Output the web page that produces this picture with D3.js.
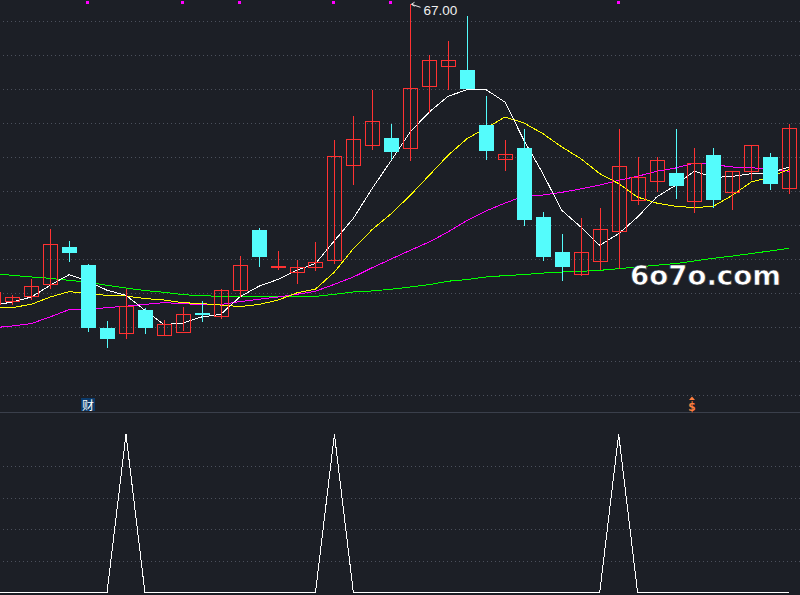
<!DOCTYPE html>
<html>
<head>
<meta charset="utf-8">
<script src="https://cdn.jsdelivr.net/npm/d3@7"></script>
<style>
  body { margin: 0; background: #1c1f26; overflow: hidden; }
</style>
</head>
<body>
<div id="chart"></div>
<script>
// day index -1 is the partly visible candle at the left edge
const days = d3.range(-1, 42);
const opens  = [49.39,49.57,49.84,50.51,52.71,51.65,47.96,47.66,49.00,47.55,47.78,48.82,48.69,50.22,53.71,51.61,51.28,51.57,51.92,57.57,58.72,59.12,58.57,62.22,63.39,63.12,59.88,57.92,58.55,54.47,52.41,51.16,51.92,53.69,55.51,56.63,57.06,55.45,58.12,55.96,57.22,58.00,56.22];
const highs  = [50.18,49.92,50.82,53.76,53.06,51.72,48.35,50.28,49.16,48.41,49.18,49.53,50.24,52.18,53.82,52.47,51.94,53.00,59.04,60.41,61.94,59.94,67.00,64.00,64.82,66.29,61.59,59.00,59.65,54.76,53.47,54.41,55.00,59.65,58.00,58.00,59.65,58.53,58.53,57.22,58.75,58.24,59.94];
const lows   = [49.29,49.34,49.63,50.25,51.84,47.72,46.78,47.31,47.61,47.55,47.78,48.31,48.49,49.78,51.55,51.35,50.55,51.31,51.72,56.37,58.43,57.84,57.78,60.61,61.98,62.00,57.84,57.19,53.96,51.88,50.71,51.00,51.35,51.45,55.18,55.96,55.53,54.72,55.02,54.90,56.65,56.08,55.84];
const closes = [50.08,49.81,50.45,52.88,52.37,47.96,47.31,49.24,47.96,48.22,48.81,48.71,50.22,51.69,52.14,51.63,51.57,51.86,58.06,59.10,60.16,58.31,62.10,63.75,63.75,62.00,58.37,58.22,54.31,52.14,51.55,52.45,53.81,57.51,56.86,57.86,56.31,57.66,55.45,57.22,58.75,56.43,59.75];

// moving averages
const ma5  = [49.29,49.49,49.78,50.47,51.10,50.71,50.18,49.88,49.00,48.16,48.25,48.61,48.76,49.78,50.41,50.81,51.35,51.75,53.09,54.41,56.18,57.82,59.49,60.66,61.59,61.98,61.98,61.25,59.00,57.04,54.88,53.90,52.82,53.51,54.49,55.66,56.35,57.19,56.81,56.88,57.04,57.08,57.43];
const ma10 = [49.15,49.16,49.35,49.78,50.10,49.98,49.88,49.84,49.69,49.61,49.45,49.39,49.31,49.22,49.34,49.59,50.02,50.25,51.25,52.63,53.76,54.69,55.76,56.94,58.12,59.10,59.72,60.37,60.02,59.39,58.61,57.92,57.04,56.45,55.66,55.31,55.12,55.04,55.12,55.76,56.55,56.84,57.29];
const ma20 = [47.97,48.08,48.22,48.61,49.04,49.04,49.16,49.24,49.35,49.45,49.39,49.34,49.34,49.51,49.65,49.78,49.94,50.12,50.53,50.96,51.51,52.02,52.53,53.02,53.61,54.29,54.84,55.31,55.71,55.78,55.94,56.14,56.37,56.65,56.88,57.18,57.37,57.66,57.57,57.43,57.39,57.28,57.18];
const ma60 = [51.15,51.06,50.96,50.88,50.76,50.66,50.47,50.31,50.16,50.06,49.92,49.86,49.82,49.81,49.81,49.82,49.82,49.82,49.94,50.08,50.14,50.24,50.37,50.51,50.71,50.81,50.96,51.04,51.10,51.19,51.25,51.29,51.35,51.45,51.55,51.65,51.75,51.90,52.06,52.19,52.34,52.49,52.65];

// lower panel signal
const signal = [0,0,0,0,0,0,0,1,0,0,0,0,0,0,0,0,0,0,1,0,0,0,0,0,0,0,0,0,0,0,0,0,0,1,0,0,0,0,0,0,0,0,0];

const markDays = [4, 9, 12, 17, 20, 32];
const caiDay = 4;
const dollarDay = 36;
const priceTicks = d3.range(44, 67, 2);
const signalTicks = [0.2, 0.4, 0.6, 0.8];
const highLabel = "67.00";
const watermark = "6o7o.com";

const width = 800, height = 595;
const upColor = "#ff3232", downColor = "#54fcfc", gridColor = "#4b505c";

const svg = d3.select("#chart")
    .append("svg")
    .attr("width", width)
    .attr("height", height)
    .style("display", "block")
    .style("background", "#1c1f26");

const x = d3.scaleLinear().domain([0, 41]).range([12.3, 789.2]);
const y = d3.scaleLinear().domain([44, 66]).range([395.3, 21.3]);
const ys = d3.scaleLinear().domain([0, 1]).range([592.3, 434.3]);

const px = v => Math.round(v) + 0.5;

// dotted grid lines, upper panel
svg.append("g")
    .selectAll("line")
    .data(priceTicks)
    .join("line")
    .attr("x1", 3).attr("x2", width)
    .attr("y1", d => px(y(d))).attr("y2", d => px(y(d)))
    .attr("stroke", gridColor)
    .attr("stroke-dasharray", "1,3");

// panel separator
svg.append("line")
    .attr("x1", 0).attr("x2", width)
    .attr("y1", 412.5).attr("y2", 412.5)
    .attr("stroke", "#3a3f4b");

// dotted grid lines, lower panel
svg.append("g")
    .selectAll("line")
    .data(signalTicks)
    .join("line")
    .attr("x1", 3).attr("x2", width)
    .attr("y1", d => px(ys(d))).attr("y2", d => px(ys(d)))
    .attr("stroke", gridColor)
    .attr("stroke-dasharray", "1,3");

// moving averages
const maSeries = [
    { values: ma60, color: "#00ff00" },
    { values: ma20, color: "#ff00ff" },
    { values: ma10, color: "#ffff00" },
    { values: ma5, color: "#ffffff" }
];
const maLine = d3.line()
    .x((d, i) => x(days[i]))
    .y(d => y(d));
svg.append("g")
    .attr("shape-rendering", "crispEdges")
    .selectAll("path")
    .data(maSeries)
    .join("path")
    .attr("fill", "none")
    .attr("stroke", d => d.color)
    .attr("stroke-width", 1)
    .attr("d", d => maLine(d.values));

// candles
const candles = days.map((d, i) => ({
    day: d, open: opens[i], high: highs[i], low: lows[i], close: closes[i]
}));
const cg = svg.append("g").attr("shape-rendering", "crispEdges");

cg.selectAll(".wick")
    .data(candles)
    .join("line")
    .attr("class", "wick")
    .attr("x1", d => px(x(d.day))).attr("x2", d => px(x(d.day)))
    .attr("y1", d => y(d.high)).attr("y2", d => y(d.low))
    .attr("stroke", d => d.close >= d.open ? upColor : downColor);

cg.selectAll(".body")
    .data(candles)
    .join("rect")
    .attr("class", "body")
    .attr("x", d => {
        const l = Math.round(x(d.day)) - 7;
        return d.close >= d.open ? l + 0.5 : l;
    })
    .attr("width", d => d.close >= d.open ? 14 : 15)
    .attr("y", d => {
        const t = Math.round(y(Math.max(d.open, d.close)));
        return d.close >= d.open ? t + 0.5 : t;
    })
    .attr("height", d => Math.max(1, Math.round(Math.abs(y(d.open) - y(d.close)))))
    .attr("fill", d => d.close >= d.open ? "#1c1f26" : downColor)
    .attr("fill-opacity", d => d.close >= d.open ? 0 : 1)
    .attr("stroke", d => d.close >= d.open ? upColor : "none");

// small markers on top edge
svg.append("g")
    .selectAll("rect")
    .data(markDays)
    .join("rect")
    .attr("x", d => Math.round(x(d)) - 2)
    .attr("y", 1)
    .attr("width", 3)
    .attr("height", 3)
    .attr("fill", "#ff00ff");

// highest price label
const hiIdx = highs.indexOf(d3.max(highs));
const hx = px(x(days[hiIdx])), hy = y(highs[hiIdx]);
svg.append("path")
    .attr("d", `M${hx + 4},${hy - 2} L${hx + 1},${hy} L${hx + 4},${hy + 2} M${hx + 1},${hy} L${hx + 10},${hy + 3}`)
    .attr("fill", "none")
    .attr("stroke", "#ededed");
svg.append("text")
    .attr("x", hx + 13)
    .attr("y", hy + 11)
    .attr("fill", "#f0f0f0")
    .style("font", "13.5px 'Liberation Sans', Arial, sans-serif")
    .text(highLabel);

// "财" tag
svg.append("rect")
    .attr("x", Math.round(x(caiDay)) - 7)
    .attr("y", 398)
    .attr("width", 14)
    .attr("height", 13)
    .attr("fill", "#0b3b6c");
svg.append("text")
    .attr("x", x(caiDay))
    .attr("y", 409.5)
    .attr("text-anchor", "middle")
    .attr("fill", "#ffffff")
    .style("font", "12px 'Noto Sans CJK SC', sans-serif")
    .text("财");

// "$" tag with up arrow
const dx = Math.round(x(dollarDay)) - 2;
svg.append("path")
    .attr("d", `M${dx - 3},${400} L${dx},${396.5} L${dx + 3},${400} Z`)
    .attr("fill", "#ff7f3f");
svg.append("text")
    .attr("x", dx)
    .attr("y", 411)
    .attr("text-anchor", "middle")
    .attr("fill", "#ff7f3f")
    .style("font", "bold 13px 'DejaVu Sans Mono', monospace")
    .text("$");

// watermark
svg.append("text")
    .attr("x", 630)
    .attr("y", 285)
    .attr("fill", "#ffffff")
    .attr("stroke", "#2a2d33")
    .attr("stroke-width", 0.6)
    .attr("textLength", 151)
    .attr("lengthAdjust", "spacingAndGlyphs")
    .style("font", "bold 26px 'DejaVu Sans', sans-serif")
    .text(watermark);

// lower panel signal line
svg.append("path")
    .datum(signal)
    .attr("fill", "none")
    .attr("stroke", "#ffffff")
    .attr("stroke-width", 1)
    .attr("shape-rendering", "crispEdges")
    .attr("d", d3.line()
        .x((d, i) => x(days[i]))
        .y(d => d === 0 ? px(ys(d)) : ys(d)));
</script>
</body>
</html>
